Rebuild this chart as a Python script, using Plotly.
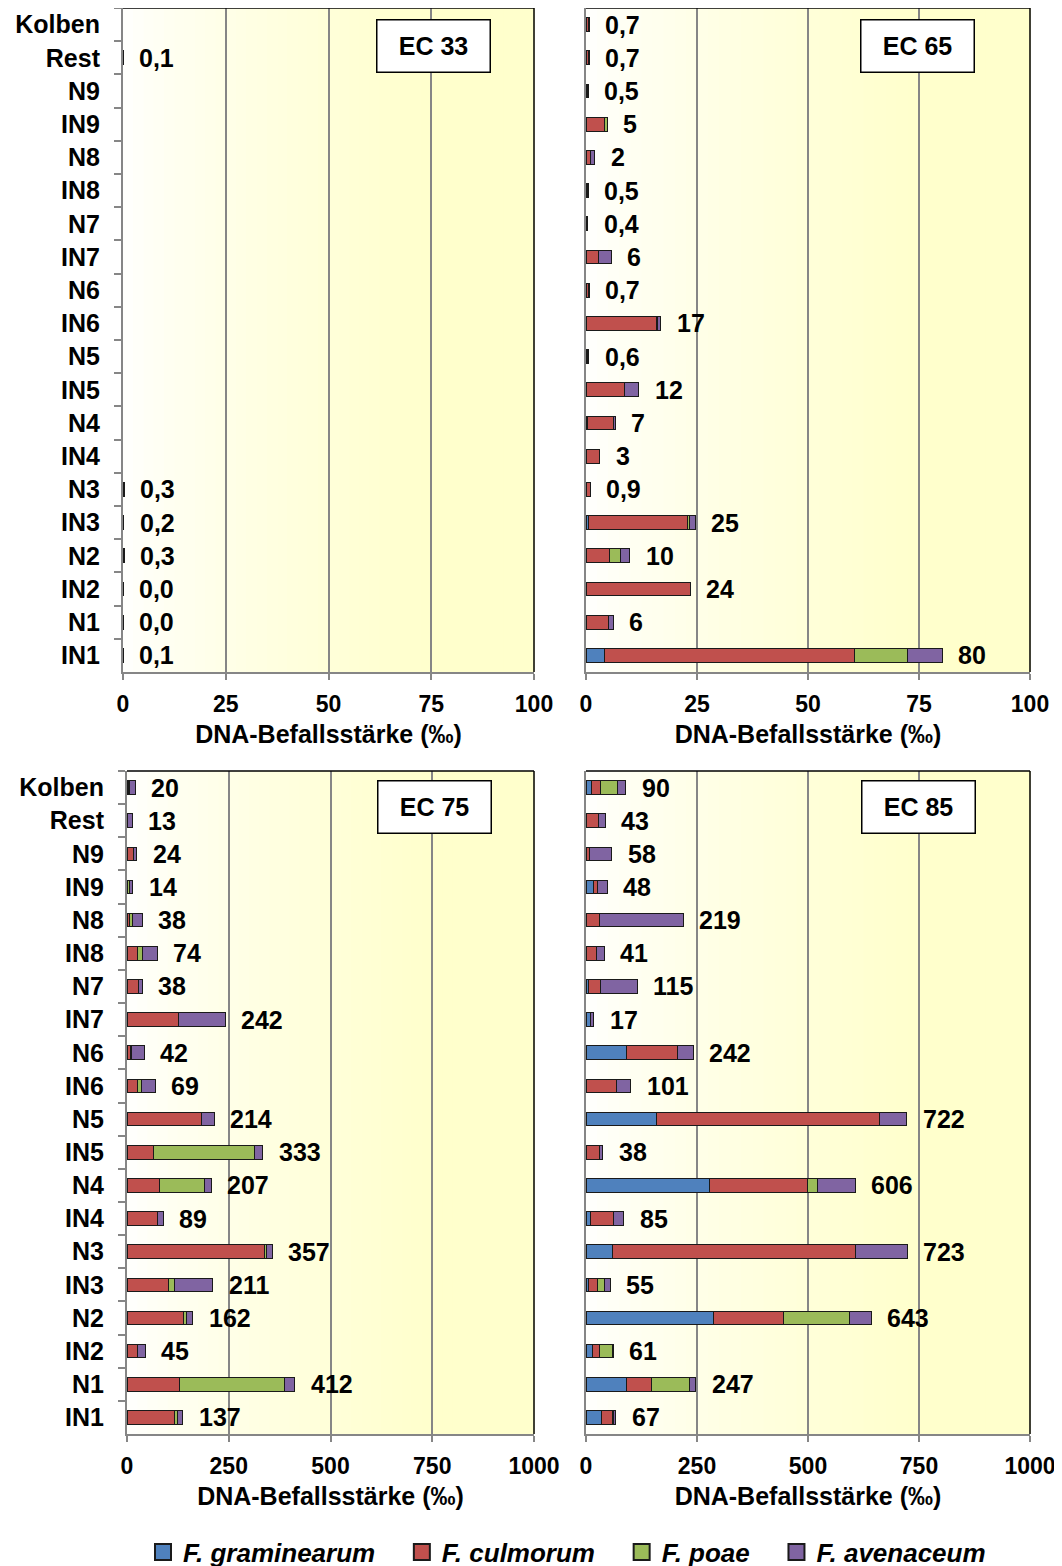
import numpy as np
import plotly.graph_objects as go

# Zeilen von oben nach unten
rows = ["Kolben", "Rest", "N9", "IN9", "N8", "IN8", "N7", "IN7", "N6", "IN6",
        "N5", "IN5", "N4", "IN4", "N3", "IN3", "N2", "IN2", "N1", "IN1"]
species = ["F. graminearum", "F. culmorum", "F. poae", "F. avenaceum"]
colors = ["#4F81BD", "#C0504D", "#9BBB59", "#8064A2"]

# EC 33
ec33_gram = [0] * 20
ec33_culm = [0, 0.1, 0, 0, 0, 0, 0, 0, 0, 0, 0, 0, 0, 0, 0.2, 0.2, 0.2, 0.02, 0.02, 0.1]
ec33_poae = [0] * 20
ec33_aven = [0, 0, 0, 0, 0, 0, 0, 0, 0, 0, 0, 0, 0, 0, 0.1, 0, 0.1, 0, 0, 0]
ec33_lab = ["", "0,1", "", "", "", "", "", "", "", "", "", "", "", "",
            "0,3", "0,2", "0,3", "0,0", "0,0", "0,1"]

# EC 65
ec65_gram = [0, 0.1, 0, 0, 0, 0, 0, 0, 0, 0, 0, 0, 0.4, 0, 0, 0.5, 0, 0, 0, 4.1]
ec65_culm = [0.6, 0.4, 0.3, 4.2, 0.9, 0.4, 0.3, 2.8, 0.5, 15.9,
             0.4, 8.6, 5.9, 3.0, 0.9, 22.3, 5.2, 23.5, 5.1, 56.4]
ec65_poae = [0, 0.1, 0, 0.6, 0.2, 0, 0, 0, 0, 0.3, 0, 0, 0, 0, 0, 0.6, 2.5, 0, 0, 11.8]
ec65_aven = [0.1, 0.1, 0.2, 0, 0.9, 0.1, 0.1, 2.9, 0.2, 0.6,
             0.2, 3.3, 0.3, 0.1, 0, 1.2, 2.2, 0, 1.0, 7.9]
ec65_lab = ["0,7", "0,7", "0,5", "5", "2", "0,5", "0,4", "6", "0,7", "17",
            "0,6", "12", "7", "3", "0,9", "25", "10", "24", "6", "80"]

# EC 75
ec75_gram = [0] * 20
ec75_culm = [4, 2, 17, 2, 7, 25, 28, 127, 8, 27, 183, 65, 81, 76, 337, 101, 139, 27, 130, 116]
ec75_poae = [2, 0, 0, 3, 6, 12, 0, 0, 2, 8, 0, 248, 109, 0, 5, 15, 7, 0, 256, 8]
ec75_aven = [14, 11, 7, 9, 25, 37, 10, 115, 32, 34, 31, 20, 17, 13, 15, 95, 16, 18, 26, 13]
ec75_lab = ["20", "13", "24", "14", "38", "74", "38", "242", "42", "69",
            "214", "333", "207", "89", "357", "211", "162", "45", "412", "137"]

# EC 85
ec85_gram = [13, 0, 2, 17, 0, 0, 6, 9, 92, 1, 158, 0, 278, 10, 60, 6, 287, 14, 91, 36]
ec85_culm = [20, 29, 6, 9, 31, 23, 26, 0, 115, 67, 503, 30, 220, 53, 546, 21, 157, 16, 56, 24]
ec85_poae = [37, 0, 0, 0, 0, 0, 0, 0, 0, 0, 0, 0, 23, 0, 0, 14, 149, 29, 85, 3]
ec85_aven = [20, 14, 50, 22, 188, 18, 83, 8, 35, 33, 61, 8, 85, 22, 117, 14, 50, 2, 15, 4]
ec85_lab = ["90", "43", "58", "48", "219", "41", "115", "17", "242", "101",
            "722", "38", "606", "85", "723", "55", "643", "61", "247", "67"]

panels = [
    ("EC 33", [ec33_gram, ec33_culm, ec33_poae, ec33_aven], ec33_lab, 100),
    ("EC 65", [ec65_gram, ec65_culm, ec65_poae, ec65_aven], ec65_lab, 100),
    ("EC 75", [ec75_gram, ec75_culm, ec75_poae, ec75_aven], ec75_lab, 1000),
    ("EC 85", [ec85_gram, ec85_culm, ec85_poae, ec85_aven], ec85_lab, 1000),
]

W, H = 1062, 1566
OFF = 8  # Seitenrand des Browsers
# Pixelgrenzen der Diagramme (links, rechts, oben, unten)
boxes = [(123, 534, 8, 672), (586, 1030, 8, 672), (127, 534, 771, 1434), (586, 1030, 771, 1434)]
FONT = "Liberation Sans, Arial, sans-serif"


def fx(px):
    return (px - OFF) / W


def fy(py):
    return 1 - (py - OFF) / H


fig = go.Figure()
shapes, annots = [], []
layout = {}

for i, (title, series, labels, xmax) in enumerate(panels):
    n = "" if i == 0 else str(i + 1)
    xa, ya = "x" + n, "y" + n
    l, r, t, b = boxes[i]
    for k in range(4):
        vals = [v if v else None for v in series[k]]  # leere Segmente ohne Rahmen
        fig.add_trace(go.Bar(
            y=rows, x=vals, orientation="h", name=species[k],
            marker=dict(color=colors[k], line=dict(color="#1a1a1a", width=1)),
            xaxis=xa, yaxis=ya, showlegend=False, legendgroup=species[k],
            hoverinfo="x+y+name"))
    totals = np.sum(np.array(series, dtype=float), axis=0)
    for row, tot, lab in zip(rows, totals, labels):
        if lab:
            annots.append(dict(x=tot, y=row, xref=xa, yref=ya, text=lab, showarrow=False,
                               xanchor="left", xshift=14,
                               font=dict(family=FONT, size=25, color="black", weight="bold")))
    # Hintergrund-Verlauf weiß -> hellgelb
    nstrip = 40
    for s in range(nstrip):
        f = (s + 0.5) / nstrip
        tt = min(1.0, (f / 0.75) ** 0.7)
        bb = int(round(255 - tt * (255 - 204)))
        shapes.append(dict(type="rect", xref=xa + " domain", yref=ya + " domain",
                           x0=s / nstrip, x1=(s + 1) / nstrip + 0.002, y0=0, y1=1,
                           fillcolor=f"rgb(255,255,{bb})", line=dict(width=0), layer="below"))
    # schwarzer Rahmen oben/rechts
    shapes.append(dict(type="line", xref=xa + " domain", yref=ya + " domain",
                       x0=0, x1=1, y0=1, y1=1, line=dict(color="black", width=1.5)))
    shapes.append(dict(type="line", xref=xa + " domain", yref=ya + " domain",
                       x0=1, x1=1, y0=0, y1=1, line=dict(color="black", width=1.5)))
    # EC-Beschriftung
    cx = [433, 917, 434, 918][i]
    cy = [46, 46, 807, 807][i]
    annots.append(dict(x=(cx - l) / (r - l), y=(b - cy) / (b - t),
                       xref=xa + " domain", yref=ya + " domain", text=title, showarrow=False,
                       xanchor="center", yanchor="middle", width=108, height=47,
                       bgcolor="white", bordercolor="black", borderwidth=1.5, borderpad=2,
                       font=dict(family=FONT, size=25, color="black", weight="bold")))

    layout["xaxis" + n] = dict(
        domain=[fx(l), fx(r)], anchor=ya, range=[0, xmax], dtick=xmax / 4,
        showgrid=True, gridcolor="#868686", gridwidth=1.5, zeroline=False,
        showline=True, linecolor="#868686", linewidth=2, automargin=False,
        ticks="outside", ticklen=6, tickcolor="#868686", tickwidth=1.5, ticklabelstandoff=4,
        tickfont=dict(family=FONT, size=23, color="black", weight="bold"),
        title=dict(text="DNA-Befallsstärke (‰)", standoff=10,
                   font=dict(family=FONT, size=25, color="black", weight="bold")),
        fixedrange=True)
    show_lab = i in (0, 2)
    layout["yaxis" + n] = dict(
        domain=[fy(b), fy(t)], anchor=xa, type="category",
        categoryorder="array", categoryarray=rows, autorange="reversed",
        showline=True, linecolor="#868686", linewidth=2, automargin=False,
        ticks="outside" if show_lab else "", tickson="boundaries", ticklen=7,
        tickcolor="#868686", tickwidth=1.5, showticklabels=show_lab, ticklabelstandoff=16,
        tickfont=dict(family=FONT, size=25, color="black", weight="bold"),
        showgrid=False, fixedrange=True)

# Legende mit größeren Symbolen
pad = "\u00a0\u00a0\u00a0"
for k in range(4):
    fig.add_trace(go.Scatter(
        x=[None], y=[None], mode="markers", name=species[k] + (pad if k < 3 else ""),
        legendgroup=species[k],
        marker=dict(symbol="square", size=16, color=colors[k], line=dict(color="#1a1a1a", width=2)),
        showlegend=True))

fig.update_layout(
    width=W, height=H, margin=dict(l=0, r=0, t=0, b=0, autoexpand=False),
    paper_bgcolor="white", plot_bgcolor="white",
    barmode="stack", bargap=0.59,
    shapes=shapes, annotations=annots,
    legend=dict(orientation="h", x=fx(567), xanchor="center", y=fy(1552), yanchor="middle",
                font=dict(family=FONT, size=26, color="black", weight="bold", style="italic"),
                itemwidth=30, traceorder="normal"),
    **layout)

fig.write_html("out.html")
